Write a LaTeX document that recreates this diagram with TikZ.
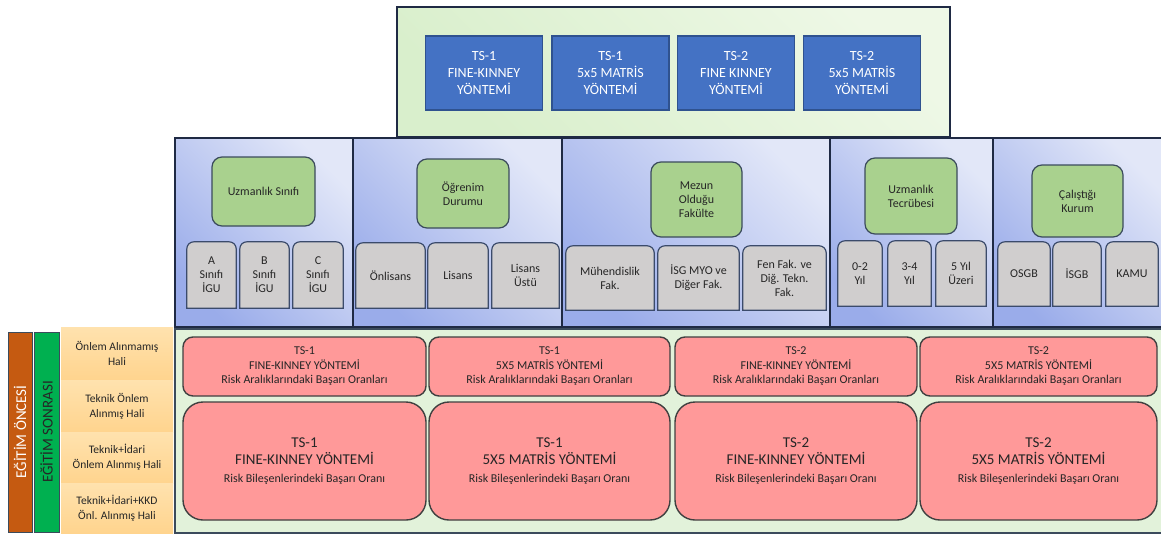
\documentclass[tikz,border=0pt]{standalone}
\usepackage{fontspec}
\setmainfont{Carlito}
\pgfdeclarelayer{back}
\pgfdeclarelayer{mid}
\pgfsetlayers{back,mid,main}
\definecolor{bluefill}{HTML}{4472C4}
\definecolor{blueline}{HTML}{2F528F}
\definecolor{panline}{HTML}{1F2A44}
\definecolor{panlight}{HTML}{E2E7F8}
\definecolor{pandark}{HTML}{9AACEA}
\definecolor{greenhead}{HTML}{A9D18E}
\definecolor{headline}{HTML}{3B4B5C}
\definecolor{grayfill}{HTML}{D0CECE}
\definecolor{grayline}{HTML}{3B4B6B}
\definecolor{paletop}{HTML}{EEF8E6}
\definecolor{palebot}{HTML}{D9EFCC}
\definecolor{palegreen}{HTML}{E2F2DA}
\definecolor{redfill}{HTML}{FF9999}
\definecolor{redline}{HTML}{404040}
\definecolor{orangecol}{HTML}{C55A11}
\definecolor{greencol}{HTML}{00B050}
\definecolor{yellowtop}{HTML}{FFE2AE}
\definecolor{yellowbot}{HTML}{FFD48E}
\definecolor{txt}{HTML}{262626}
\newcommand\grayshape[1]{%
  \begin{pgfonlayer}{mid}
  \path[draw=grayline, fill=grayfill, line width=1.2pt]
    (#1.south west) -- ([yshift=-7pt]#1.north west)
    arc[start angle=180, end angle=90, radius=7pt]
    -- ([xshift=-7pt]#1.north east)
    arc[start angle=90, end angle=0, radius=7pt]
    -- (#1.south east) -- cycle;
  \end{pgfonlayer}}
\tikzset{
  boxbase/.style={inner sep=0pt, align=center},
  greenpanel/.style={boxbase, draw=panline, line width=1.2pt, top color=paletop, bottom color=palebot, shading angle=-45},
  bluebox/.style={boxbase, draw=blueline, fill=bluefill, line width=1.2pt, text=white, font=\fontsize{14}{17}\selectfont, minimum width=117pt, minimum height=74pt},
  bluepanel/.style={boxbase, draw=panline, line width=1.3pt, top color=panlight, bottom color=pandark, shading angle=-45, minimum height=189pt},
  headbox/.style={boxbase, draw=headline, fill=greenhead, line width=1.2pt, rounded corners=10pt, text=txt, font=\fontsize{12}{14}\selectfont},
  graybox/.style={boxbase, text=txt, font=\fontsize{12}{14}\selectfont},
  sidecol/.style={boxbase, draw=headline, line width=1pt, rotate=90, minimum width=200pt, font=\fontsize{15}{18}\selectfont},
  yellowcell/.style={boxbase, top color=yellowtop, bottom color=yellowbot, minimum width=112pt, text=txt, font=\fontsize{11.5}{15}\selectfont},
  redbox/.style={boxbase, draw=redline, fill=redfill, line width=1.4pt, text=txt},
  redsmall/.style={redbox, rounded corners=10pt, minimum height=59pt, font=\fontsize{12}{14.5}\selectfont},
  redbig/.style={redbox, rounded corners=20pt, minimum height=118pt, font=\fontsize{15}{17.5}\selectfont},
}
\newcommand\smallline[1]{{\fontsize{12}{15}\selectfont #1}}
\begin{document}
\begin{tikzpicture}[x=1pt, y=-1pt]
\useasboundingbox (0,0) rectangle (1161,535);
% backgrounds
\begin{pgfonlayer}{back}
\node[greenpanel, minimum width=553pt, minimum height=130pt] (topp) at (673.5,72) {};
\node[bluepanel, minimum width=178pt] (p1) at (264,232.5) {};
\node[bluepanel, minimum width=209pt] (p2) at (457.5,232.5) {};
\node[bluepanel, minimum width=268pt] (p3) at (696,232.5) {};
\node[bluepanel, minimum width=163pt] (p4) at (911.5,232.5) {};
\node[bluepanel, minimum width=169pt] (p5) at (1077.5,232.5) {};
\node[boxbase, draw=headline, line width=1.2pt, fill=palegreen, minimum width=987pt, minimum height=204pt] (botp) at (668.5,431) {};
\end{pgfonlayer}
% top blue boxes
\node[bluebox] (b1) at (484,73) {TS-1\\FINE-KINNEY\\YÖNTEMİ};
\node[bluebox] (b2) at (610.5,73) {TS-1\\5x5 MATRİS\\YÖNTEMİ};
\node[bluebox] (b3) at (736,73) {TS-2\\FINE KINNEY\\YÖNTEMİ};
\node[bluebox] (b4) at (862,73) {TS-2\\5x5 MATRİS\\YÖNTEMİ};
% headers
\node[headbox, minimum width=103pt, minimum height=69pt] (h1) at (263.5,191.5) {Uzmanlık Sınıfı};
\node[headbox, minimum width=92pt, minimum height=69pt] (h2) at (463,193.5) {Öğrenim\\Durumu};
\node[headbox, minimum width=91pt, minimum height=75pt] (h3) at (696.5,199.5) {Mezun\\Olduğu\\Fakülte};
\node[headbox, minimum width=92pt, minimum height=76pt] (h4) at (911,196) {Uzmanlık\\Tecrübesi};
\node[headbox, minimum width=91pt, minimum height=72pt] (h5) at (1077.5,201) {Çalıştığı\\Kurum};
% gray boxes
\node[graybox, minimum width=49pt, minimum height=66pt] (g11) at (211.5,275) {A\\Sınıfı\\İGU};
\node[graybox, minimum width=49pt, minimum height=66pt] (g12) at (264.5,275) {B\\Sınıfı\\İGU};
\node[graybox, minimum width=50pt, minimum height=66pt] (g13) at (318,275) {C\\Sınıfı\\İGU};
\node[graybox, minimum width=69pt, minimum height=65pt] (g21) at (390.5,275.5) {Önlisans};
\node[graybox, minimum width=60pt, minimum height=65pt] (g22) at (458,275.5) {Lisans};
\node[graybox, minimum width=67pt, minimum height=65pt] (g23) at (525.5,275.5) {Lisans\\Üstü};
\node[graybox, minimum width=88pt, minimum height=64pt] (g31) at (610,278) {Mühendislik\\Fak.};
\node[graybox, minimum width=81pt, minimum height=64pt] (g32) at (698.5,278) {İSG MYO ve\\Diğer Fak.};
\node[graybox, minimum width=83pt, minimum height=64pt] (g33) at (784.5,278) {Fen Fak. ve\\Diğ. Tekn.\\Fak.};
\node[graybox, minimum width=44pt, minimum height=65pt] (g41) at (860,273.5) {0-2\\Yıl};
\node[graybox, minimum width=43pt, minimum height=65pt] (g42) at (909.5,273.5) {3-4\\Yıl};
\node[graybox, minimum width=50pt, minimum height=65pt] (g43) at (961,273.5) {5 Yıl\\Üzeri};
\node[graybox, minimum width=52pt, minimum height=64pt] (g51) at (1024,274) {OSGB};
\node[graybox, minimum width=48pt, minimum height=64pt] (g52) at (1077,274) {İSGB};
\node[graybox, minimum width=52pt, minimum height=64pt] (g53) at (1132,274) {KAMU};
\grayshape{g11}\grayshape{g12}\grayshape{g13}
\grayshape{g21}\grayshape{g22}\grayshape{g23}
\grayshape{g31}\grayshape{g32}\grayshape{g33}
\grayshape{g41}\grayshape{g42}\grayshape{g43}
\grayshape{g51}\grayshape{g52}\grayshape{g53}
% side columns
\node[sidecol, fill=orangecol, text=white, minimum height=24pt] (pre) at (20,432) {EĞİTİM ÖNCESİ};
\node[sidecol, fill=greencol, text=black!85, minimum height=25pt] (post) at (46.5,432) {EĞİTİM SONRASI};
% yellow rows
\node[yellowcell, minimum height=53pt] (y1) at (117,353.5) {Önlem Alınmamış\\Hali};
\node[yellowcell, minimum height=52pt] (y2) at (117,406) {Teknik Önlem\\Alınmış Hali};
\node[yellowcell, minimum height=51pt] (y3) at (117,457.5) {Teknik+İdari\\Önlem Alınmış Hali};
\node[yellowcell, minimum height=50pt] (y4) at (117,508) {Teknik+İdari+KKD\\Önl. Alınmış Hali};
% red row 1
\node[redsmall, minimum width=243pt] (r11) at (304.5,366.5) {TS-1\\FINE-KINNEY YÖNTEMİ\\Risk Aralıklarındaki Başarı Oranları};
\node[redsmall, minimum width=241pt] (r12) at (549.5,366.5) {TS-1\\5X5 MATRİS YÖNTEMİ\\Risk Aralıklarındaki Başarı Oranları};
\node[redsmall, minimum width=242pt] (r13) at (796,366.5) {TS-2\\FINE-KINNEY YÖNTEMİ\\Risk Aralıklarındaki Başarı Oranları};
\node[redsmall, minimum width=237pt] (r14) at (1038.5,366.5) {TS-2\\5X5 MATRİS YÖNTEMİ\\Risk Aralıklarındaki Başarı Oranları};
% red row 2
\node[redbig, minimum width=243pt] (r21) at (304.5,461) {TS-1\\FINE-KINNEY YÖNTEMİ\\\smallline{Risk Bileşenlerindeki Başarı Oranı}};
\node[redbig, minimum width=241pt] (r22) at (549.5,461) {TS-1\\5X5 MATRİS YÖNTEMİ\\\smallline{Risk Bileşenlerindeki Başarı Oranı}};
\node[redbig, minimum width=242pt] (r23) at (796,461) {TS-2\\FINE-KINNEY YÖNTEMİ\\\smallline{Risk Bileşenlerindeki Başarı Oranı}};
\node[redbig, minimum width=237pt] (r24) at (1038.5,461) {TS-2\\5X5 MATRİS YÖNTEMİ\\\smallline{Risk Bileşenlerindeki Başarı Oranı}};
\end{tikzpicture}
\end{document}
